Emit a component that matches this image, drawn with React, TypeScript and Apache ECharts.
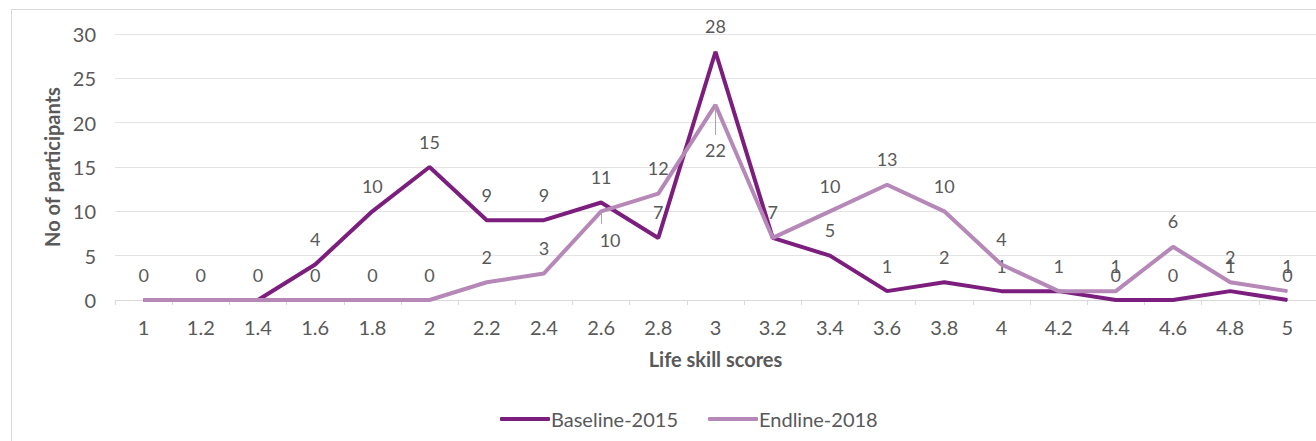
import React, { useEffect, useRef } from "react";
import * as echarts from "echarts";

const categories = ["1", "1.2", "1.4", "1.6", "1.8", "2", "2.2", "2.4", "2.6", "2.8", "3", "3.2", "3.4", "3.6", "3.8", "4", "4.2", "4.4", "4.6", "4.8", "5"];
const baseline2015 = [0, 0, 0, 4, 10, 15, 9, 9, 11, 7, 28, 7, 5, 1, 2, 1, 1, 0, 0, 1, 0];
const endline2018 = [0, 0, 0, 0, 0, 0, 2, 3, 10, 12, 22, 7, 10, 13, 10, 4, 1, 1, 6, 2, 1];
const yTicks = { min: 0, max: 30, interval: 5 };

// label placement overrides for the light series (index -> placement)
const endlineBelow: Record<number, { distance: number; offset: [number, number] }> = {
  8: { distance: 19, offset: [9, 0] },
  10: { distance: 36, offset: [0, 0] },
};

const TEXT = "#595959";
const FONT = "Lato";
const DARK = "#7b1e7d";
const LIGHT = "#b688b8";

export default function App() {
  const ref = useRef<HTMLDivElement>(null);
  useEffect(() => {
    document.body.style.margin = "0";
    const chart = echarts.init(ref.current!, null, { renderer: "svg" });
    const labelBase = {
      show: true,
      position: "top" as const,
      distance: 16,
      color: TEXT,
      fontFamily: FONT,
      fontSize: 18,
    };
    chart.setOption({
      animation: false,
      textStyle: { fontFamily: FONT },
      graphic: [
        {
          type: "rect",
          shape: { x: 11.5, y: 9.5, width: 1340, height: 460 },
          style: { fill: "none", stroke: "#d9d9d9", lineWidth: 1 },
          silent: true,
          z: -10,
        },
      ],
      grid: { left: 115, right: -15, top: 34, bottom: 141, containLabel: false },
      legend: {
        data: ["Baseline-2015", "Endline-2018"],
        bottom: 7,
        left: 495,
        icon: "roundRect",
        itemWidth: 50,
        itemHeight: 4,
        itemGap: 30,
        textStyle: { color: TEXT, fontFamily: FONT, fontSize: 20, padding: [0, 0, 0, -4] },
      },
      xAxis: {
        type: "category",
        data: categories,
        boundaryGap: true,
        name: "Life skill scores",
        nameLocation: "middle",
        nameGap: 49,
        nameTextStyle: { color: TEXT, fontFamily: FONT, fontSize: 20, fontWeight: "bold" },
        axisLine: { lineStyle: { color: "#d9d9d9", width: 1 } },
        axisTick: { show: true, length: 5, lineStyle: { color: "#d9d9d9" } },
        axisLabel: { color: TEXT, fontFamily: FONT, fontSize: 20, margin: 17 },
        splitLine: { show: false },
      },
      yAxis: {
        type: "value",
        min: yTicks.min,
        max: yTicks.max,
        interval: yTicks.interval,
        name: "No of participants",
        nameLocation: "middle",
        nameGap: 52,
        nameTextStyle: { color: TEXT, fontFamily: FONT, fontSize: 20, fontWeight: "bold" },
        axisLine: { show: false },
        axisTick: { show: false },
        axisLabel: { color: TEXT, fontFamily: FONT, fontSize: 20, margin: 19 },
        splitLine: { lineStyle: { color: "#e3e3e3", width: 1 } },
      },
      series: [
        {
          name: "Baseline-2015",
          type: "line",
          data: baseline2015,
          symbol: "circle",
          symbolSize: 1,
          showSymbol: true,
          lineStyle: { color: DARK, width: 4 },
          itemStyle: { color: DARK },
          label: labelBase,
          z: 2,
        },
        {
          name: "Endline-2018",
          type: "line",
          data: endline2018.map((v, i) => {
            if (endlineBelow[i]) {
              return {
                value: v,
                label: {
                  position: "bottom",
                  distance: endlineBelow[i].distance,
                  offset: endlineBelow[i].offset,
                },
              };
            }
            // identical value to the baseline: the two labels coincide, draw it once
            if (v === baseline2015[i]) return { value: v, label: { show: false } };
            return v;
          }),
          symbol: "circle",
          symbolSize: 1,
          showSymbol: true,
          lineStyle: { color: LIGHT, width: 4 },
          itemStyle: { color: LIGHT },
          label: labelBase,
          z: 3,
          markLine: {
            silent: true,
            symbol: "none",
            label: { show: false },
            lineStyle: { color: "#a6a6a6", width: 1, type: "solid" },
            data: [
              [{ coord: ["2.6", 10] }, { coord: ["2.6", 8.6] }],
              [{ coord: ["3", 22] }, { coord: ["3", 18.6] }],
            ],
          },
        },
      ],
    });
    return () => chart.dispose();
  }, []);
  return <div ref={ref} style={{ width: 1316, height: 441 }} />;
}
